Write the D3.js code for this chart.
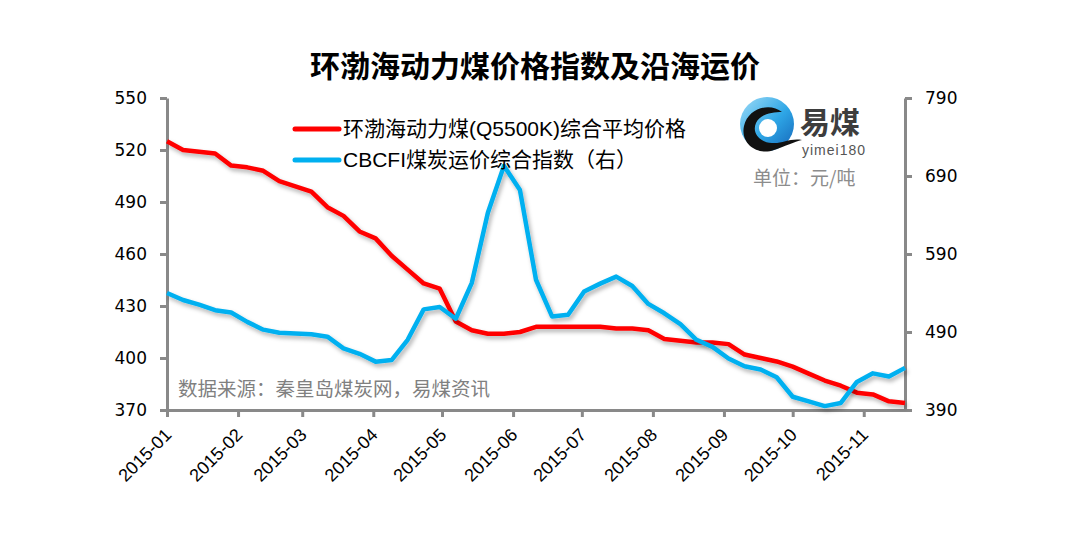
<!DOCTYPE html>
<html>
<head>
<meta charset="utf-8">
<script src="https://cdn.jsdelivr.net/npm/d3@7"></script>
<style>
  html, body { margin: 0; padding: 0; background: #fff; }
  svg { display: block; }
</style>
</head>
<body>
<svg id="chart" width="1077" height="535"></svg>
<script>
// ---------------- DATA ----------------
const titleText = "环渤海动力煤价格指数及沿海运价";
const seriesNames = ["环渤海动力煤(Q5500K)综合平均价格", "CBCFI煤炭运价综合指数（右）"];
const startDate = "2015-01-07";           // weekly observations
const bspiValues = [525, 520, 519, 518, 511, 510, 508, 502, 499, 496,
                    487, 482, 473, 469, 459, 451, 443, 440, 421, 416,
                    414, 414, 415, 418, 418, 418, 418, 418, 417, 417,
                    416, 411, 410, 409, 409, 408, 402, 400, 398, 395,
                    391, 387, 384, 380, 379, 375, 374];
const cbcfiValues = [540, 531, 525, 518, 515, 503, 493, 489, 488, 487,
                     484, 469, 462, 452, 454, 480, 519, 522, 507, 553,
                     643, 703, 672, 557, 510, 512, 542, 552, 561, 549,
                     526, 514, 500, 480, 471, 456, 446, 442, 432, 407,
                     401, 395, 399, 426, 437, 433, 444];
const xTickLabels = ["2015-01", "2015-02", "2015-03", "2015-04", "2015-05", "2015-06",
                     "2015-07", "2015-08", "2015-09", "2015-10", "2015-11"];
const leftTicks = [370, 400, 430, 460, 490, 520, 550];
const rightTicks = [390, 490, 590, 690, 790];
const sourceText = "数据来源：秦皇岛煤炭网，易煤资讯";
const unitText = "单位：元/吨";

// ---------------- SETUP ----------------
const svg = d3.select("#chart");
const L = 167, R = 905, T = 98, B = 410;
const parse = d3.timeParse("%Y-%m-%d");
const t0 = parse(startDate);
const dates = bspiValues.map((_, i) => d3.timeDay.offset(t0, 7 * i));
const tickDates = xTickLabels.map(s => parse(s + "-07"));

const x = d3.scaleTime().domain([dates[0], dates[dates.length - 1]]).range([L, R]);
const yL = d3.scaleLinear().domain([370, 550]).range([B, T]);
const yR = d3.scaleLinear().domain([390, 790]).range([B, T]);

const defs = svg.append("defs");
const f = defs.append("filter").attr("id", "shadow")
  .attr("x", "-5%").attr("y", "-10%").attr("width", "115%").attr("height", "130%");
f.append("feDropShadow").attr("dx", 2).attr("dy", 3).attr("stdDeviation", 2)
  .attr("flood-color", "#000").attr("flood-opacity", 0.3);

const grad = defs.append("linearGradient").attr("id", "logoGrad")
  .attr("x1", "0").attr("y1", "0").attr("x2", "1").attr("y2", "1");
grad.append("stop").attr("offset", "0%").attr("stop-color", "#9fdcf7");
grad.append("stop").attr("offset", "55%").attr("stop-color", "#2ea6e6");
grad.append("stop").attr("offset", "100%").attr("stop-color", "#1565b8");

// ---------------- TITLE ----------------
svg.append("text")
  .attr("x", 535).attr("y", 77)
  .attr("text-anchor", "middle")
  .style("font-family", "'Noto Sans CJK SC', sans-serif")
  .style("font-weight", "bold")
  .style("font-size", "30px")
  .attr("fill", "#000")
  .text(titleText);

// ---------------- AXES ----------------
const axisColor = "#898989";
function styleAxis(g) {
  g.selectAll("path.domain").attr("stroke", axisColor).attr("stroke-width", 3);
  g.selectAll(".tick line").attr("stroke", axisColor).attr("stroke-width", 3);
}

const gL = svg.append("g").attr("transform", `translate(${L},0)`)
  .call(d3.axisLeft(yL).tickValues(leftTicks).tickSize(7).tickSizeOuter(0).tickPadding(13));
styleAxis(gL);
gL.selectAll(".tick text")
  .style("font-family", "'DejaVu Sans', sans-serif").style("font-size", "17px").attr("fill", "#000");

const gR = svg.append("g").attr("transform", `translate(${R},0)`)
  .call(d3.axisRight(yR).tickValues(rightTicks).tickSize(7).tickSizeOuter(0).tickPadding(13));
styleAxis(gR);
gR.selectAll(".tick text")
  .style("font-family", "'DejaVu Sans', sans-serif").style("font-size", "17px").attr("fill", "#000");

const gX = svg.append("g").attr("transform", `translate(0,${B})`)
  .call(d3.axisBottom(x).tickValues(tickDates).tickSize(7).tickSizeOuter(0)
    .tickFormat((d, i) => xTickLabels[i]));
styleAxis(gX);
gX.selectAll(".tick text")
  .attr("y", 0).attr("dy", 0)
  .attr("transform", "translate(5,26) rotate(-45)")
  .attr("text-anchor", "end")
  .style("font-family", "'Liberation Sans', sans-serif").style("font-size", "18px").attr("fill", "#000");

// ---------------- LINES ----------------
const lineL = d3.line().x((d, i) => x(dates[i])).y(d => yL(d));
const lineR = d3.line().x((d, i) => x(dates[i])).y(d => yR(d));

svg.append("path").datum(bspiValues)
  .attr("d", lineL).attr("fill", "none")
  .attr("stroke", "#ff0000").attr("stroke-width", 4.5)
  .attr("stroke-linejoin", "round")
  .attr("filter", "url(#shadow)");

svg.append("path").datum(cbcfiValues)
  .attr("d", lineR).attr("fill", "none")
  .attr("stroke", "#00b0f0").attr("stroke-width", 4.5)
  .attr("stroke-linejoin", "round")
  .attr("filter", "url(#shadow)");

// ---------------- LEGEND ----------------
const legColors = ["#ff0000", "#00b0f0"];
const legY = [129, 160];
seriesNames.forEach((name, i) => {
  svg.append("line")
    .attr("x1", 295).attr("x2", 339).attr("y1", legY[i]).attr("y2", legY[i])
    .attr("stroke", legColors[i]).attr("stroke-width", 5).attr("stroke-linecap", "round");
  svg.append("text")
    .attr("x", 343).attr("y", legY[i]).attr("dy", "0.35em")
    .style("font-family", "'Liberation Sans', 'Noto Sans CJK SC', sans-serif")
    .style("font-size", "21px")
    .attr("fill", "#000")
    .text(name);
});

// ---------------- SOURCE & UNIT ----------------
svg.append("text")
  .attr("x", 178).attr("y", 396)
  .style("font-family", "'Noto Sans CJK SC', sans-serif")
  .style("font-size", "19.5px")
  .attr("fill", "#808080")
  .text(sourceText);

svg.append("text")
  .attr("x", 753).attr("y", 185)
  .style("font-family", "'Noto Sans CJK SC', sans-serif")
  .style("font-size", "19px")
  .attr("fill", "#8c8c8c")
  .text(unitText);

// ---------------- LOGO ----------------
const logo = svg.append("g");
logo.append("circle").attr("cx", 767).attr("cy", 124).attr("r", 27).attr("fill", "url(#logoGrad)");
logo.append("path")
  .attr("d", "M782,112 C770,102 748,108 744,126 C740,144 758,156 774,150 C786,146 794,142 802,140 C790,138 782,144 772,143 C758,142 752,132 756,123 C760,114 772,112 782,112 Z")
  .attr("fill", "#111");
logo.append("circle").attr("cx", 768).attr("cy", 128).attr("r", 9).attr("fill", "#fff");
logo.append("text")
  .attr("x", 800).attr("y", 133)
  .style("font-family", "'Noto Sans CJK SC', sans-serif")
  .style("font-weight", "bold").style("font-size", "30px")
  .attr("fill", "#3d3d3d")
  .text("易煤");
logo.append("text")
  .attr("x", 802).attr("y", 155)
  .style("font-family", "'Liberation Sans', sans-serif")
  .style("font-size", "14px")
  .style("letter-spacing", "1px")
  .attr("fill", "#555")
  .text("yimei180");
</script>
</body>
</html>
